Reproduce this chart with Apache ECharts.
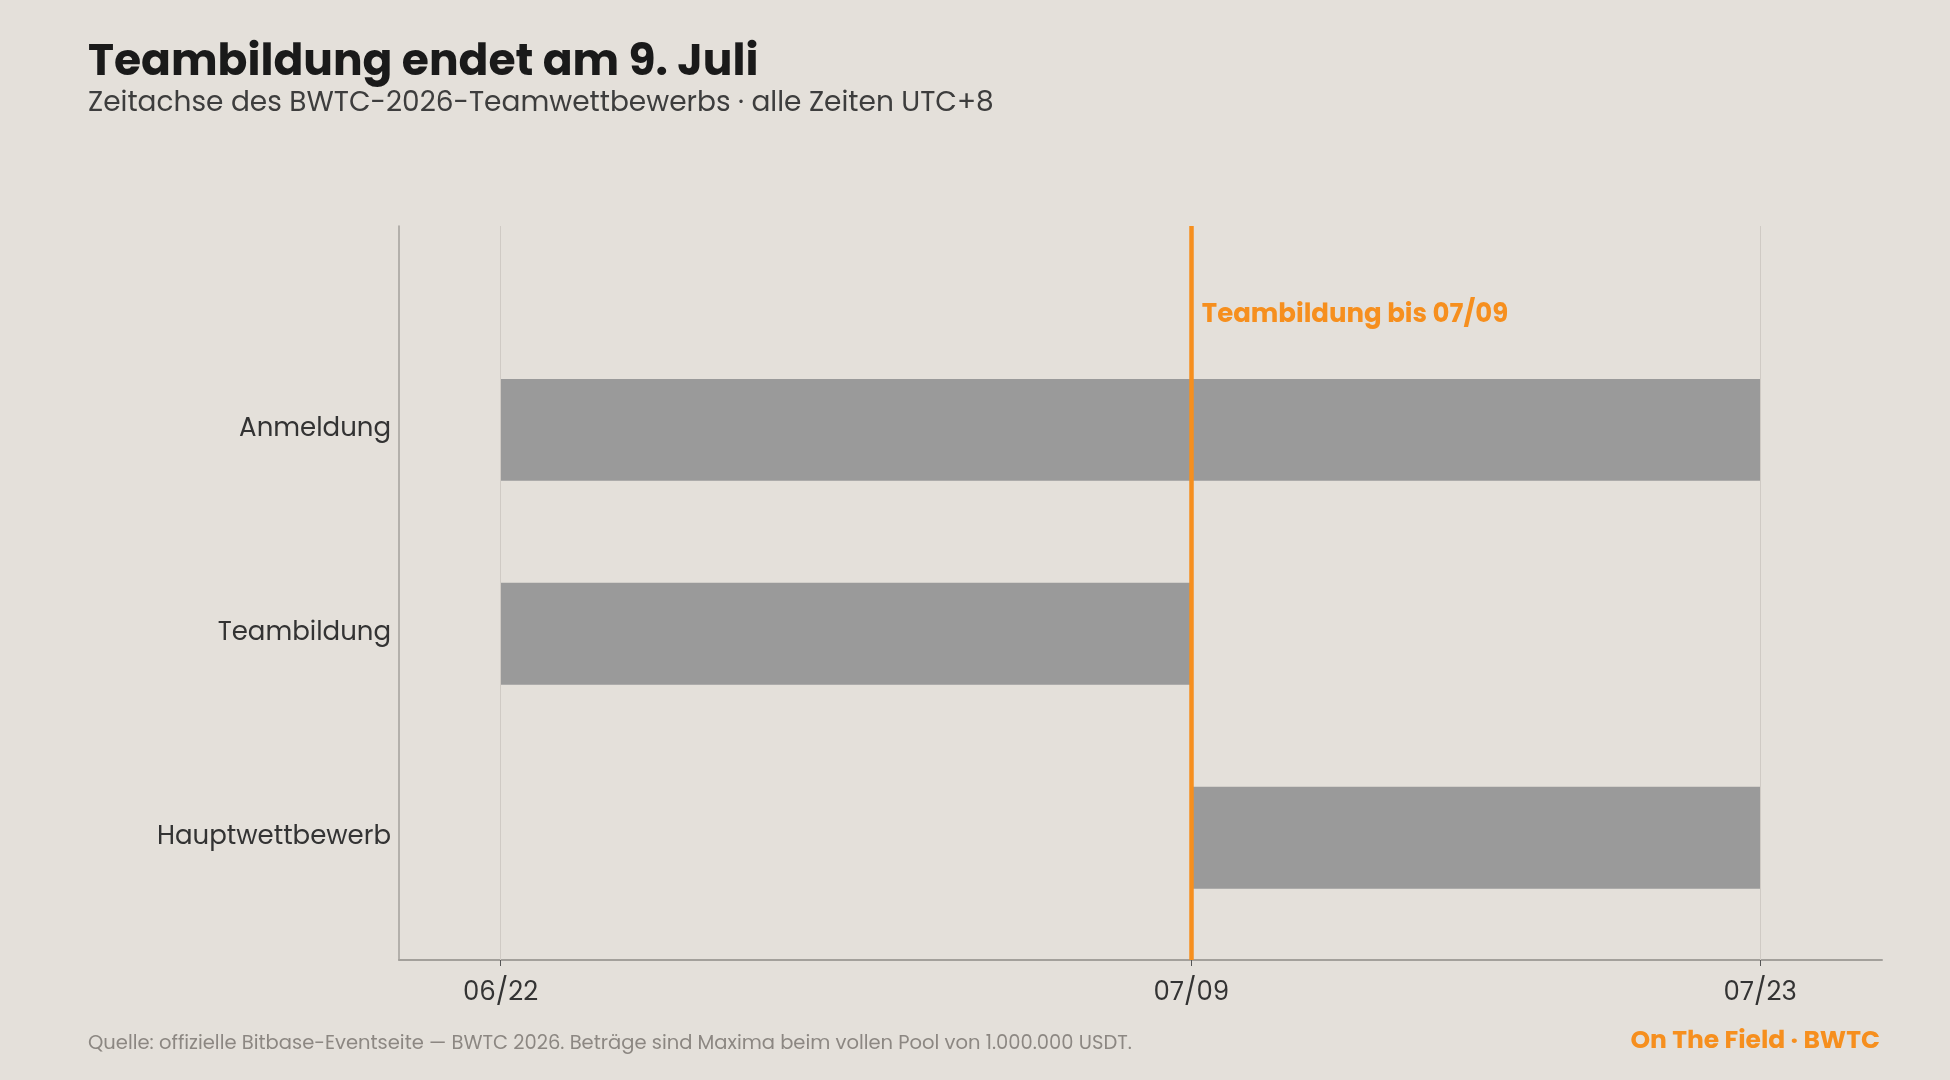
<!DOCTYPE html>
<html>
<head>
<meta charset="utf-8">
<style>
  html, body { margin: 0; padding: 0; background: #e4e0da; }
  #chart { width: 1950px; height: 1080px; }
</style>
<script src="https://cdn.jsdelivr.net/npm/echarts@6/dist/echarts.min.js"></script>
</head>
<body>
<div id="chart"></div>
<script>
// ---- data ----
const categories = ['Anmeldung', 'Teambildung', 'Hauptwettbewerb'];
const startDates = ['2026-06-22', '2026-06-22', '2026-07-09'];
const endDates   = ['2026-07-23', '2026-07-09', '2026-07-23'];
const tickDates  = ['2026-06-22', '2026-07-09', '2026-07-23'];
const gridDates  = ['2026-06-22', '2026-07-23'];
const markerDate = '2026-07-09';
const markerText = 'Teambildung bis 07/09';
const xMin = '2026-06-19 12:00';
const xMax = '2026-07-26 00:00';
const yMin = -1;
const yMax = 2.6;
const titleText = 'Teambildung endet am 9. Juli';
const subtitleText = 'Zeitachse des BWTC-2026-Teamwettbewerbs · alle Zeiten UTC+8';
const sourceText = 'Quelle: offizielle Bitbase-Eventseite — BWTC 2026. Beträge sind Maxima beim vollen Pool von 1.000.000 USDT.';
const brandText = 'On The Field · BWTC';

const FONT = 'Poppins, Inter, "Open Sans", sans-serif';
const ORANGE = '#f68f1e';
const ts = s => echarts.time.parse(s).getTime();
const fmtDate = v => {
  const d = new Date(v);
  const mm = String(d.getMonth() + 1).padStart(2, '0');
  const dd = String(d.getDate()).padStart(2, '0');
  return mm + '/' + dd;
};

const barData = categories.map((c, i) => [i, ts(startDates[i]), ts(endDates[i])]);

const chart = echarts.init(document.getElementById('chart'));
chart.setOption({
  animation: false,
  backgroundColor: '#e4e0da',
  grid: { left: 399, right: 68, top: 226, bottom: 120, containLabel: false },
  xAxis: {
    type: 'value',
    min: ts(xMin), max: ts(xMax),
    axisLine: { show: true, onZero: false, lineStyle: { color: '#a3a09b', width: 2 } },
    axisTick: { show: true, length: 6, lineStyle: { color: '#555', width: 1 }, customValues: tickDates.map(ts) },
    axisLabel: {
      customValues: tickDates.map(ts),
      formatter: v => fmtDate(v),
      color: '#333', fontFamily: FONT, fontSize: 26, margin: 20
    },
    splitLine: { show: false }
  },
  yAxis: {
    type: 'value',
    inverse: true,
    min: yMin, max: yMax,
    axisLine: { show: true, onZero: false, lineStyle: { color: '#a3a09b', width: 1.5 } },
    axisTick: { show: false },
    splitLine: { show: false },
    axisLabel: {
      customValues: categories.map((c, i) => i),
      formatter: v => categories[Math.round(v)] || '',
      color: '#333', fontFamily: FONT, fontSize: 26, margin: 8
    }
  },
  series: [
    {
      type: 'line', data: [], z: 1, silent: true,
      markLine: {
        silent: true, symbol: ['none', 'none'], label: { show: false },
        lineStyle: { color: '#cfcac4', width: 1, type: 'solid' },
        data: gridDates.map(d => ({ xAxis: ts(d) }))
      }
    },
    {
      type: 'custom', z: 2,
      encode: { x: [1, 2], y: 0 },
      data: barData,
      renderItem: (params, api) => {
        const y = api.value(0);
        const p0 = api.coord([api.value(1), y]);
        const p1 = api.coord([api.value(2), y]);
        const h = api.size([0, 0.5])[1];
        return {
          type: 'rect',
          shape: { x: p0[0], y: p0[1] - h / 2, width: p1[0] - p0[0], height: h },
          style: { fill: '#9a9a9a' }
        };
      },
      markLine: {
        silent: true, symbol: ['none', 'none'], label: { show: false },
        lineStyle: { color: ORANGE, width: 4.5, type: 'solid' },
        data: [{ xAxis: ts(markerDate) }]
      },
      markPoint: {
        silent: true, symbol: 'circle', symbolSize: 1,
        itemStyle: { color: 'rgba(0,0,0,0)' },
        label: {
          show: true, position: 'right', distance: 10,
          formatter: markerText, color: ORANGE, fontFamily: FONT,
          fontWeight: 'bold', fontSize: 26
        },
        data: [{ coord: [ts(markerDate), -0.56] }]
      }
    }
  ],
  graphic: [
    { type: 'text', left: 88, top: 42, style: { text: titleText, font: 'bold 44px ' + FONT, fill: '#1a1a1a' } },
    { type: 'text', left: 88, top: 90, style: { text: subtitleText, font: '28px ' + FONT, fill: '#3d3d3d' } },
    { type: 'text', left: 88, top: 1034, style: { text: sourceText, font: '19.5px ' + FONT, fill: '#8c8782' } },
    { type: 'text', right: 70, top: 1029, style: { text: brandText, font: 'bold 25px ' + FONT, fill: ORANGE } }
  ]
});
</script>
</body>
</html>
